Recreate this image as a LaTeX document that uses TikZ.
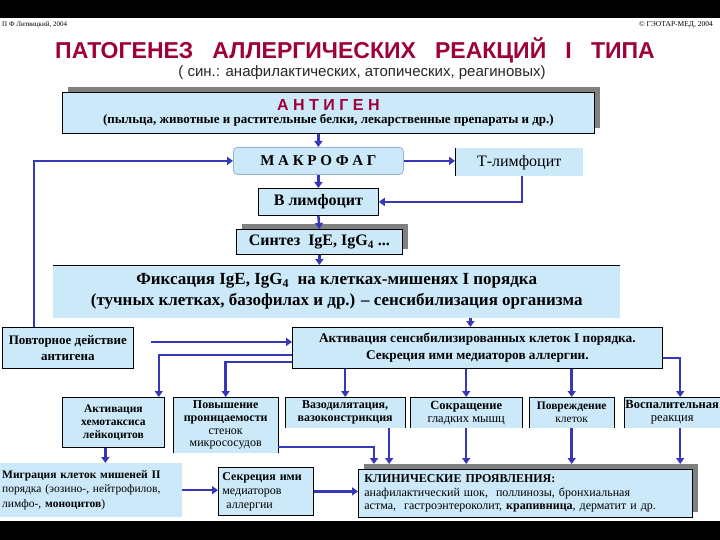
\documentclass[tikz,border=0pt]{standalone}
\usepackage{fontspec}
\setmainfont{Liberation Serif}
\newfontfamily\headfont{Liberation Sans}
\usetikzlibrary{arrows.meta,shadows}

\definecolor{lblue}{RGB}{204,233,250}
\definecolor{crim}{RGB}{158,0,58}
\definecolor{arrblue}{RGB}{55,55,185}
\definecolor{shgray}{RGB}{128,128,128}
\definecolor{mfedge}{RGB}{150,180,210}

\begin{document}
\begin{tikzpicture}[x=1pt,y=-1pt]
                    \tikzstyle{box}=[draw=black,fill=lblue,line width=0.8pt,inner sep=0pt,anchor=north west,align=center,font=\bfseries\fontsize{10}{12}\selectfont]
                    \tikzstyle{flat}=[fill=lblue,inner sep=0pt,anchor=north west,align=center,font=\bfseries\fontsize{10}{12}\selectfont]
                    \tikzstyle{shd}=[general shadow={fill=shgray,shadow xshift=6pt,shadow yshift=5pt}]
                    \tikzstyle{arr}=[-{Triangle[width=8pt,length=6pt]},draw=arrblue,line width=2.5pt]

                    \useasboundingbox (0,0) rectangle (720,540);
                    \fill [white] (0,0) rectangle (720,540);
                    \fill [black] (0,0) rectangle (720,18);
                    \fill [black] (0,521) rectangle (720,540);

                    \node (au) at (2,25) [anchor=west,inner sep=0pt,font=\fontsize{7}{8}\selectfont] {П Ф Литвицкий, 2004};
                    \node (pub) at (713,25) [anchor=east,inner sep=0pt,font=\fontsize{7.5}{8}\selectfont] {© ГЭОТАР-МЕД, 2004};
                    \node (ttl) at (355,50) [text=crim,font=\headfont\bfseries\fontsize{23}{26}\selectfont] {ПАТОГЕНЕЗ~~~АЛЛЕРГИЧЕСКИХ~~~РЕАКЦИЙ~~~I~~~ТИПА};
                    \node (sub) at (362,73) [text=black!85,font=\headfont\fontsize{15}{17}\selectfont] {( син.: анафилактических, атопических, реагиновых)};

                    \node (ag) at (62,92) [box,shd,minimum width=532pt,minimum height=41pt] {{\headfont\fontsize{16}{17}\selectfont\color{crim}А~Н~Т~И~Г~Е~Н}\\[1pt]
                        {\fontsize{13}{14}\selectfont (пыльца, животные и растительные белки, лекарственные препараты и др.)}};

                    \node (mf) at (233,147) [box,draw=mfedge,rounded corners=4pt,minimum width=170pt,minimum height=27pt,font=\bfseries\fontsize{15}{17}\selectfont] {М~А~К~Р~О~Ф~А~Г};
                    \node (tl) at (455,148) [flat,minimum width=128pt,minimum height=28pt,font=\fontsize{16}{18}\selectfont] {Т-лимфоцит};
                    \node (bl) at (258,188) [box,minimum width=120pt,minimum height=27pt,font=\bfseries\fontsize{16}{18}\selectfont] {В лимфоцит};
                    \node (syn) at (236,229) [box,shd,minimum width=166pt,minimum height=25pt,font=\bfseries\fontsize{16}{18}\selectfont] {Синтез~~IgE, IgG\textsubscript{4} ...};
                    \node (fix) at (53,265) [flat,minimum width=567pt,minimum height=53pt,font=\bfseries\fontsize{17}{21}\selectfont] {Фиксация IgE, IgG\textsubscript{4}~~на клетках-мишенях I порядка\\
                        (тучных клетках, базофилах и др.) – сенсибилизация организма};

                    \node (rep) at (2,327) [box,minimum width=131pt,minimum height=41pt,font=\bfseries\fontsize{13}{16}\selectfont] {Повторное действие\\антигена};
                    \node (act) at (292,327) [box,minimum width=370pt,minimum height=41pt,font=\bfseries\fontsize{13.3}{17}\selectfont] {Активация сенсибилизированных клеток I порядка.\\Секреция ими медиаторов аллергии.};

                    \node (c1) at (62,397) [box,minimum width=102pt,minimum height=50pt,font=\bfseries\fontsize{11.5}{13}\selectfont] {Активация\\хемотаксиса\\лейкоцитов};
                    \node (c2) at (173,397) [flat,minimum width=105pt,minimum height=56pt,font=\fontsize{12}{12.7}\selectfont] {\textbf{Повышение}\\\textbf{проницаемости}\\стенок\\микрососудов};
                    \node (c3) at (285,397) [flat,minimum width=120pt,minimum height=31pt,font=\bfseries\fontsize{12}{13}\selectfont] {Вазодилятация,\\вазоконстрикция};
                    \node (c4) at (410,397) [flat,minimum width=112pt,minimum height=31pt,font=\fontsize{12.5}{13}\selectfont] {\textbf{Сокращение}\\гладких мышц};
                    \node (c5) at (529,397) [flat,minimum width=85pt,minimum height=31pt,font=\fontsize{11.5}{13}\selectfont] {\textbf{Повреждение}\\клеток};
                    \node (c6) at (624,397) [flat,minimum width=96pt,minimum height=31pt,font=\fontsize{12.5}{13}\selectfont] {\textbf{Воспалительная}\\реакция};

                    \node (mig) at (0,463) [flat,minimum width=182pt,minimum height=54pt,text width=178pt,align=left,font=\fontsize{11.5}{14.5}\selectfont] {\textbf{Миграция клеток мишеней II}\\порядка (эозино-, нейтрофилов,\\лимфо-, \textbf{моноцитов})};
                    \node (sec) at (218,467) [box,minimum width=95pt,minimum height=48pt,text width=87pt,align=left,font=\fontsize{12}{14}\selectfont] {\textbf{Секреция ими}\\медиаторов\\~аллергии};
                    \node (clin) at (358,469) [box,shd,minimum width=334pt,minimum height=48pt,text width=322pt,align=left,font=\fontsize{12}{13.5}\selectfont] {\textbf{КЛИНИЧЕСКИЕ ПРОЯВЛЕНИЯ:}\\анафилактический шок,~~поллинозы, бронхиальная\\астма,~~гастроэнтероколит, \textbf{крапивница}, дерматит и др.};

                    % open borders
                    \draw [line width=0.8pt] (tl.north west) -- (tl.south west);
                    \draw [line width=0.8pt] (fix.north west) -- (fix.north east);
                    \foreach \n in {c2,c3,c4,c5,c6}
                        \draw [line width=0.8pt] (\n.south west) -- (\n.north west) -- (\n.north east) -- (\n.south east);

                    \coordinate (ct) at ([yshift=5pt]clin.north);

                    \draw [arr] (ag.south -| mf.north) -- (mf.north);
                    \draw [arr] (mf.east) -- (mf.east -| tl.west);
                    \draw [arr] ([xshift=3pt]tl.south) |- (bl.east);
                    \draw [arr] (mf.south) -- (bl.north);
                    \draw [arr] (bl.south) -- (syn.north);
                    \draw [arr] (syn.south) -- (syn.south |- fix.north);
                    \draw [arr] ([xshift=-7pt]act.north |- fix.south) -- ([xshift=-7pt]act.north);
                    \draw [arr] ([xshift=17pt,yshift=6pt]rep.east) -- ([yshift=6pt]act.west);
                    \draw [arr] ([xshift=-34pt]rep.north) |- (mf.west);

                    \draw [arr] ([yshift=-7pt]act.west) -| ([xshift=-6pt]c1.north east);
                    \draw [arr] ([yshift=-14pt]act.west) -| (c2.north);
                    \draw [arr] (act.south -| c3.north) -- (c3.north);
                    \draw [arr] (act.south -| c4.north) -- (c4.north);
                    \draw [arr] (act.south -| c5.north) -- (c5.north);
                    \draw [arr] ([yshift=-10pt]act.east) -| ([xshift=8pt]c6.north);

                    \draw [arr] ([xshift=-8pt]c1.south) -- ([xshift=-8pt]c1.south |- mig.north);
                    \draw [arr] ([yshift=-22pt]c2.east) -| ([xshift=16pt]ct -| clin.north west);
                    \draw [arr] ([xshift=44pt]c3.south) -- ([xshift=44pt]c3.south |- ct);
                    \draw [arr] (c4.south) -- (c4.south |- ct);
                    \draw [arr] (c5.south) -- (c5.south |- ct);
                    \draw [arr] ([xshift=8pt]c6.south) -- ([xshift=8pt]c6.south |- ct);
                    \draw [arr] (mig.east) -- (mig.east -| sec.west);
                    \draw [arr] (sec.east) -- (sec.east -| clin.west);
                \end{tikzpicture}
\end{document}
